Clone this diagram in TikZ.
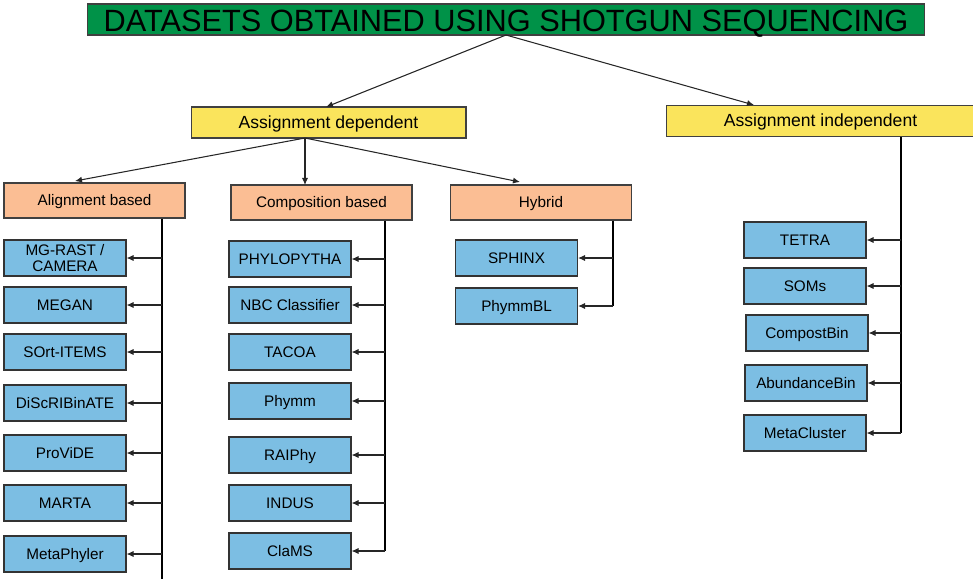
\documentclass[tikz,border=0pt]{standalone}
\usepackage{fontspec}
\setsansfont{Liberation Sans}
\usetikzlibrary{arrows.meta}
\definecolor{titlegreen}{RGB}{0,146,72}
\definecolor{catyellow}{RGB}{250,228,92}
\definecolor{grpsalmon}{RGB}{251,190,148}
\definecolor{toolblue}{RGB}{124,190,227}
\begin{document}
\begin{tikzpicture}
[x=0.02cm, y=-0.02cm, font=\sffamily, line width=0.6pt,
heading/.style={draw=black!75, fill=titlegreen, minimum width=16.76cm, minimum height=0.62cm, inner sep=0pt, text height=14pt, text depth=0pt, font=\sffamily\fontsize{17.5}{17.5}\selectfont},
category/.style={draw=black!75, fill=catyellow, minimum height=0.62cm, inner sep=0pt, text height=8pt, text depth=1.5pt, font=\sffamily\fontsize{10}{12}\selectfont},
group/.style={draw=black!75, fill=grpsalmon, minimum width=3.62cm, minimum height=0.7cm, inner sep=0pt, text height=7pt, text depth=1.5pt, font=\sffamily\fontsize{8.7}{10}\selectfont},
tool/.style={draw=black!80, fill=toolblue, minimum width=2.44cm, minimum height=0.72cm, inner sep=0pt, align=center, font=\sffamily\fontsize{8.7}{9.6}\selectfont},
single/.style={text height=7pt, text depth=1.2pt},
link/.style={draw=black!85, -{Latex[length=4pt,width=3.5pt]}}]

\useasboundingbox (0,0) rectangle (973,579);

\node[heading] (title) at (506,19.5) {DATASETS OBTAINED USING SHOTGUN SEQUENCING};
\node[category, minimum width=5.5cm] (dep) at (328.5,122.5) {Assignment dependent};
\node[category, minimum width=6.18cm] (indep) at (820.5,121) {Assignment independent};

\coordinate (titlefork) at (506,35);
\coordinate (deptip) at (326,107);
\coordinate (indeptip) at (754,105);
\draw[link] (titlefork) -- (deptip);
\draw[link] (titlefork) -- (indeptip);

\node[group] (align) at (94.5,200.5) {Alignment based};
\node[group] (comp) at (321.5,202.5) {Composition based};
\node[group] (hyb) at (541,202.5) {Hybrid};

\coordinate (depfork) at (305,138);
\draw[link] (depfork) -- (75,181) coordinate (aligntip);
\draw[link] (depfork) -- (305,185) coordinate (comptip);
\draw[link] (depfork) -- (520,182) coordinate (hybtip);

\coordinate (alignend) at (162,579);
\draw (align.south -| alignend) -- (alignend);
\node[tool] (al1) at (65,258) {MG-RAST /\\CAMERA};
\coordinate (alb1) at (162,258);
\draw[link] (alb1) -- (al1);
\foreach \n/\y/\t in {2/305/MEGAN, 3/352/SOrt-ITEMS, 4/403/DiScRIBinATE,
    5/453/ProViDE, 6/503/MARTA, 7/554/MetaPhyler} {
    \node[tool, single] (al\n) at (65,\y) {\t};
    \coordinate (alb\n) at (162,\y);
    \draw[link] (alb\n) -- (al\n);
}

\coordinate (compend) at (385,551);
\draw (comp.south -| compend) -- (compend);
\foreach \n/\y/\t in {1/259/PHYLOPYTHA, 2/305/NBC Classifier, 3/352/TACOA, 4/401/Phymm,
    5/455/RAIPhy, 6/503/INDUS, 7/551/ClaMS} {
    \node[tool, single] (co\n) at (290,\y) {\t};
    \coordinate (cob\n) at (385,\y);
    \draw[link] (cob\n) -- (co\n);
}

\coordinate (hybend) at (613,306);
\draw (hyb.south -| hybend) -- (hybend);
\foreach \n/\y/\t in {1/258/SPHINX, 2/306/PhymmBL} {
    \node[tool, single] (hy\n) at (516.5,\y) {\t};
    \coordinate (hyb\n) at (613,\y);
    \draw[link] (hyb\n) -- (hy\n);
}

\coordinate (independ) at (901,433);
\draw (indep.south -| independ) -- (independ);
\foreach \n/\x/\y/\t in {1/805/240/TETRA, 2/805/286/SOMs, 3/807/333/CompostBin,
    4/806/383/AbundanceBin, 5/805/433/MetaCluster} {
    \node[tool, single] (in\n) at (\x,\y) {\t};
    \coordinate (inb\n) at (901,\y);
    \draw[link] (inb\n) -- (in\n);
}

\end{tikzpicture}
\end{document}
